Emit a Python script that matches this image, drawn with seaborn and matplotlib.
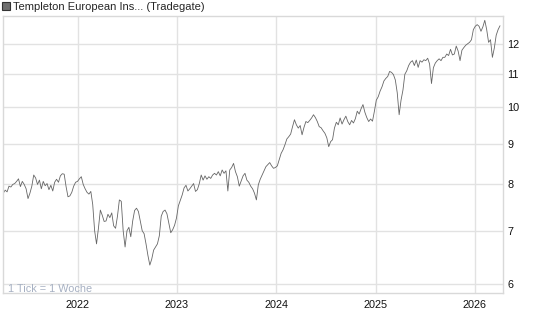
import pandas as pd
import matplotlib
matplotlib.use("Agg")
import matplotlib.pyplot as plt
import matplotlib.ticker as mticker
from matplotlib.lines import Line2D
import seaborn as sns

# Weekly prices, split into consecutive stretches
prices_1 = [7.80, 7.87, 7.83, 7.96, 7.94, 8.00, 8.02, 8.07, 8.13, 7.95, 8.07, 8.00,
            7.90, 7.68, 7.80, 7.96, 8.22, 8.15, 8.00, 8.10, 7.90, 8.07, 7.97, 8.02,
            7.88, 7.98, 7.85, 8.05, 8.12, 8.05, 8.20, 8.25, 8.24, 7.95, 7.72, 7.74,
            7.82, 7.96, 8.05, 8.07, 8.13, 8.18, 8.00, 7.90, 7.82, 7.78, 7.84]
prices_2 = [7.55, 7.00, 6.74, 7.05, 7.43, 7.32, 7.19, 7.20, 7.34, 7.27, 7.37, 7.10,
            7.05, 7.30, 7.65, 7.62, 7.00, 6.68, 7.00, 7.07, 6.88, 7.20, 7.42, 7.47,
            7.40, 7.20, 7.00, 6.94, 6.74, 6.52, 6.34, 6.45, 6.62, 6.68, 6.74, 6.90,
            7.30, 7.40, 7.43, 7.35, 7.15, 6.96, 7.02]
prices_3 = [7.11, 7.26, 7.52, 7.64, 7.76, 7.92, 7.98, 7.85, 7.90, 7.96, 8.02, 7.84,
            7.88, 8.02, 8.22, 8.10, 8.20, 8.12, 8.18, 8.14, 8.22, 8.26, 8.22, 8.30,
            8.20, 8.34, 8.26, 8.32, 7.85, 8.34, 8.40, 8.50, 8.30, 8.18, 7.96, 8.08,
            8.20, 8.26, 8.10, 8.05, 7.96, 7.90]
prices_4 = [7.80, 7.65, 7.99, 8.12, 8.22, 8.32, 8.42, 8.47, 8.52, 8.44, 8.38, 8.40,
            8.44, 8.59, 8.75, 8.84, 8.97, 9.12, 9.18, 9.25, 9.45, 9.64, 9.50, 9.41,
            9.48, 9.23, 9.43, 9.59, 9.56, 9.62, 9.69, 9.78, 9.70, 9.59, 9.45, 9.42,
            9.34, 9.27, 9.15, 8.92, 9.05, 9.10]
prices_5 = [9.41, 9.57, 9.50, 9.69, 9.52, 9.64, 9.74, 9.59, 9.50, 9.62, 9.55, 9.67,
            9.88, 9.80, 9.95, 10.07, 9.85, 9.70, 9.59, 9.66, 9.60, 9.88, 10.20, 10.30,
            10.47, 10.60, 10.78, 10.86, 10.92, 11.08, 11.05, 10.98, 10.81, 10.42, 9.78]
prices_6 = [10.20, 10.50, 10.99, 11.10, 11.27, 11.38, 11.43, 11.27, 11.45, 11.21,
            11.43, 11.38, 11.46, 11.43, 11.51, 11.32, 10.70, 11.20, 11.35, 11.43,
            11.49, 11.43, 11.54, 11.54, 11.65, 11.60, 11.81, 11.62, 11.65, 11.92,
            11.75, 11.43, 11.78, 11.87, 11.95, 12.00, 12.05, 12.14, 12.50, 12.62,
            12.68, 12.62, 12.44, 12.60, 12.84, 12.50, 12.05, 12.14, 11.54, 11.85,
            12.30, 12.50, 12.64]

start_date = "2021-04-02"
x_range = ("2021-04-01", "2026-04-14")
year_ticks = ["2022", "2023", "2024", "2025", "2026"]
price_ticks = [6, 7, 8, 9, 10, 11, 12]
series_label = "Templeton European Ins... (Tradegate)"
note_text = "1 Tick = 1 Woche"


def main():
    prices = prices_1 + prices_2 + prices_3 + prices_4 + prices_5 + prices_6
    dates = pd.date_range(start_date, periods=len(prices), freq="7D")
    df = pd.DataFrame({"date": dates, "price": prices})

    sns.set_style("white")
    plt.rcParams["font.family"] = ["Liberation Sans", "DejaVu Sans"]

    fig = plt.figure(figsize=(5.45, 3.27), dpi=100)
    ax = fig.add_axes([3 / 545, 34 / 327, 500 / 545, 277 / 327])

    sns.lineplot(data=df, x="date", y="price", ax=ax, color="#666666", linewidth=0.6)

    # log price axis, labels on the right
    ax.set_yscale("log")
    ax.set_ylim(5.85, 13.0)
    ax.set_xlim(pd.Timestamp(x_range[0]), pd.Timestamp(x_range[1]))
    ax.yaxis.set_major_locator(mticker.FixedLocator(price_ticks))
    ax.yaxis.set_major_formatter(mticker.FixedFormatter([str(v) for v in price_ticks]))
    ax.yaxis.set_minor_locator(mticker.NullLocator())
    ax.yaxis.tick_right()
    ax.set_xticks(pd.to_datetime([f"{y}-01-01" for y in year_ticks]))
    ax.set_xticklabels(year_ticks)

    ax.grid(True, color="#e2e2e2", linewidth=1)
    ax.tick_params(length=0, labelsize=7.8, colors="#111111")
    ax.tick_params(axis="x", pad=5)
    ax.tick_params(axis="y", pad=3)
    ax.set_xlabel("")
    ax.set_ylabel("")
    for spine in ax.spines.values():
        spine.set_color("#d9d9d9")
        spine.set_linewidth(1)

    ax.text(0.01, 0.005, note_text, transform=ax.transAxes, color="#a6b0c2",
            fontsize=7.8, va="baseline", ha="left")

    handle = Line2D([], [], marker="s", linestyle="none", markersize=5.5,
                    markerfacecolor="#6f6f6f", markeredgecolor="#333333",
                    markeredgewidth=0.8)
    fig.legend(handles=[handle], labels=[series_label], loc="upper left",
               bbox_to_anchor=(0.0, 1.0), frameon=False, fontsize=8,
               handletextpad=0.2, handlelength=0.8, borderpad=0.15,
               borderaxespad=0)

    fig.savefig("out.png", dpi=100)
    plt.close(fig)


if __name__ == "__main__":
    main()
